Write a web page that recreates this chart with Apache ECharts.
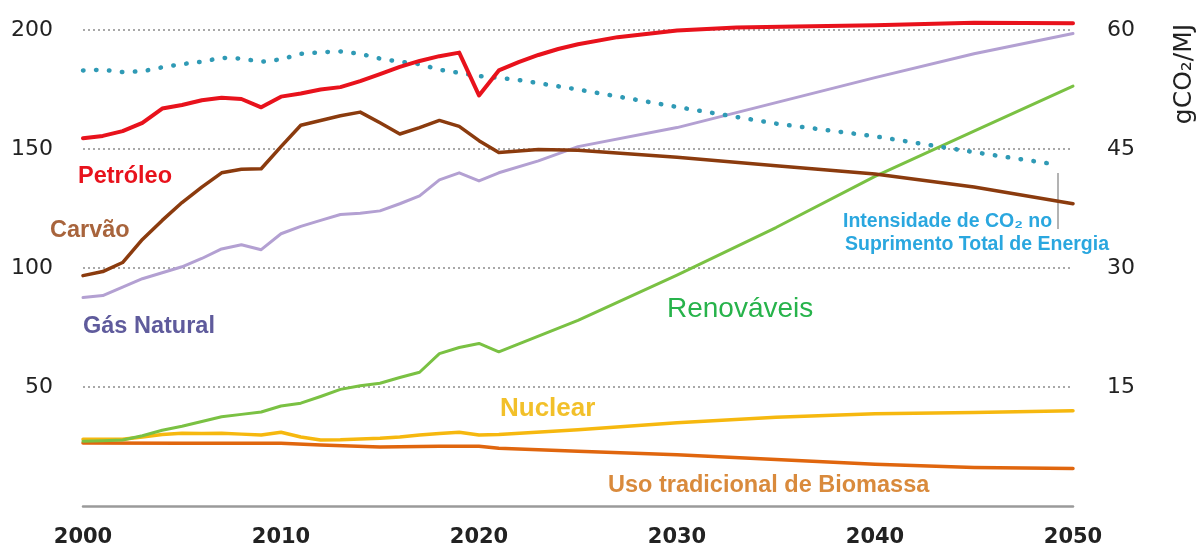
<!DOCTYPE html>
<html>
<head>
<meta charset="utf-8">
<script src="https://cdn.jsdelivr.net/npm/echarts@6/dist/echarts.min.js"></script>
<style>
  html, body { margin: 0; padding: 0; background: #fff; }
  #chart { width: 1199px; height: 551px; }
</style>
</head>
<body>
<div id="chart"></div>
<script>
// [ano, valor] – eixo esquerdo
const petroleo = [
  [2000, 154.5], [2001, 155.5], [2002, 157.5], [2003, 161], [2004, 167], [2005, 168.5],
  [2006, 170.5], [2007, 171.5], [2008, 171], [2009, 167.5], [2010, 172], [2011, 173.3],
  [2012, 175], [2013, 176], [2014, 178.5], [2015, 181.5], [2016, 184.5], [2017, 187],
  [2018, 189], [2019, 190.5], [2020, 172.5], [2021, 183], [2022, 186.5], [2023, 189.5],
  [2024, 192], [2025, 194], [2027, 197], [2030, 199.8], [2033, 201], [2036, 201.5],
  [2040, 202], [2045, 203], [2050, 202.8],
]
const carvao = [
  [2000, 96.8], [2001, 98.5], [2002, 102.3], [2003, 112], [2004, 120], [2005, 127.5],
  [2006, 134], [2007, 140], [2008, 141.5], [2009, 141.7], [2010, 151], [2011, 160],
  [2012, 162], [2013, 164], [2014, 165.5], [2015, 161], [2016, 156.3], [2017, 159],
  [2018, 162], [2019, 159.5], [2020, 153.5], [2021, 148.5], [2023, 149.8], [2025, 149.5],
  [2030, 146.5], [2035, 143], [2040, 139.5], [2045, 134], [2050, 127],
]
const gasNatural = [
  [2000, 87.6], [2001, 88.4], [2002, 92], [2003, 95.5], [2004, 98], [2005, 100.5],
  [2006, 104], [2007, 108], [2008, 109.8], [2009, 107.7], [2010, 114.4], [2011, 117.5],
  [2012, 120], [2013, 122.5], [2014, 123], [2015, 124], [2016, 127], [2017, 130.3],
  [2018, 137], [2019, 140], [2020, 136.6], [2021, 140], [2023, 145], [2025, 151],
  [2030, 159], [2035, 169.5], [2040, 180], [2045, 190], [2050, 198.5],
]
const renovaveis = [
  [2000, 27.2], [2001, 27.4], [2002, 27.7], [2003, 29.5], [2004, 31.8], [2005, 33.5],
  [2006, 35.5], [2007, 37.5], [2008, 38.5], [2009, 39.5], [2010, 42], [2011, 43.2],
  [2012, 46], [2013, 49], [2014, 50.5], [2015, 51.6], [2016, 54], [2017, 56.2],
  [2018, 64], [2019, 66.6], [2020, 68.3], [2021, 64.8], [2025, 78], [2030, 97],
  [2035, 117], [2040, 138.5], [2045, 157.5], [2050, 176.4],
]
const nuclear = [
  [2000, 28], [2001, 28], [2002, 28], [2003, 29], [2004, 30], [2005, 30.6],
  [2006, 30.5], [2007, 30.6], [2008, 30.2], [2009, 29.8], [2010, 31], [2011, 29],
  [2012, 27.7], [2013, 27.8], [2014, 28.2], [2015, 28.5], [2016, 29], [2017, 29.8],
  [2018, 30.5], [2019, 31], [2020, 29.8], [2021, 30], [2025, 32], [2030, 35],
  [2035, 37.3], [2040, 38.8], [2045, 39.3], [2050, 40],
]
const biomassa = [
  [2000, 26.5], [2005, 26.4], [2010, 26.4], [2012, 25.6], [2015, 24.8], [2018, 25.1],
  [2020, 25.1], [2021, 24.3], [2025, 23], [2030, 21.5], [2035, 19.5], [2040, 17.5],
  [2045, 16.2], [2050, 15.8],
]
// eixo direito (gCO2/MJ)
const intensidadeCO2 = [
  [2000, 54.9], [2001, 55], [2002, 54.7], [2003, 54.8], [2004, 55.3], [2005, 55.7],
  [2006, 56], [2007, 56.5], [2008, 56.4], [2009, 56], [2010, 56.3], [2011, 57],
  [2012, 57.2], [2013, 57.3], [2014, 57], [2015, 56.4], [2016, 56], [2017, 55.7],
  [2018, 55], [2019, 54.6], [2020, 54.2], [2022, 53.7], [2025, 52.5], [2030, 50.3],
  [2035, 48.2], [2040, 46.6], [2045, 44.6], [2049, 43.1],
]

const SANS = '"Liberation Sans", Arial, sans-serif'
const LABEL_FONT = `bold 23.5px ${SANS}`
const NOTE_FONT = `bold 19.5px ${SANS}`

function line(name, data, color, width, extra = {}) {
  return {
    name,
    type: 'line',
    data,
    symbol: 'none',
    clip: false,
    lineStyle: { color, width, join: 'round', cap: 'round' },
    ...extra,
  }
}

function text(str, x, y, fill, font = LABEL_FONT) {
  return { type: 'text', x, y, style: { text: str, fill, font, align: 'left', verticalAlign: 'middle' } }
}

const chart = echarts.init(document.getElementById('chart'))
chart.setOption({
  animation: false,
  grid: { left: 83, right: 126, top: 30, bottom: 45, outerBoundsMode: 'none' },
  xAxis: {
    type: 'value',
    min: 2000,
    max: 2050,
    interval: 10,
    axisLine: { lineStyle: { color: '#9a9a9a', width: 2.5 } },
    axisTick: { show: false },
    splitLine: { show: false },
    axisLabel: {
      margin: 21,
      color: '#222',
      fontSize: 21,
      fontWeight: 'bold',
      fontFamily: '"DejaVu Sans", sans-serif',
      formatter: (v) => String(v),
    },
  },
  yAxis: [
    {
      type: 'value',
      min: 0,
      max: 200,
      interval: 50,
      axisLine: { show: false },
      axisTick: { show: false },
      splitLine: { showMinLine: false, lineStyle: { color: '#a8a8a8', width: 2, type: [2, 3] } },
      axisLabel: {
        margin: 30,
        color: '#222',
        fontSize: 22,
        fontFamily: '"DejaVu Sans", sans-serif',
        formatter: (v) => (v === 0 ? '' : v),
      },
    },
    {
      type: 'value',
      min: 0,
      max: 60,
      interval: 15,
      position: 'right',
      axisLine: { show: false },
      axisTick: { show: false },
      splitLine: { show: false },
      axisLabel: {
        margin: 34,
        color: '#222',
        fontSize: 22,
        fontFamily: '"DejaVu Sans", sans-serif',
        formatter: (v) => (v === 0 ? '' : v),
      },
    },
  ],
  series: [
    line('Uso tradicional de Biomassa', biomassa, '#e0660e', 3.5),
    line('Nuclear', nuclear, '#f6b80f', 3.5),
    line('Renováveis', renovaveis, '#7ac143', 3),
    line('Gás Natural', gasNatural, '#b3a0d2', 3),
    line('Carvão', carvao, '#8b3b0e', 3.5),
    line('Intensidade de CO₂', intensidadeCO2, '#2f9ab5', 4.5, {
      yAxisIndex: 1,
      lineStyle: { color: '#2f9ab5', width: 4.5, type: [0.5, 12.5], cap: 'round' },
    }),
    line('Petróleo', petroleo, '#e8121c', 4),
  ],
  graphic: [
    text('Petróleo', 78, 177, '#e8121c'),
    text('Carvão', 50, 231, '#a8643c'),
    text('Gás Natural', 83, 327, '#5f5b9c'),
    text('Renováveis', 667, 309, '#27b34b', `28px ${SANS}`),
    text('Nuclear', 500, 409, '#f2c02a', `bold 26px ${SANS}`),
    text('Uso tradicional de Biomassa', 608, 486, '#d98a3c'),
    text('Intensidade de CO₂ no', 843, 222, '#2aa7df', NOTE_FONT),
    text('Suprimento Total de Energia', 845, 245, '#2aa7df', NOTE_FONT),
    {
      type: 'line',
      shape: { x1: 1058, y1: 173, x2: 1058, y2: 229 },
      style: { stroke: '#9a9a9a', lineWidth: 1.5 },
    },
    {
      type: 'text',
      x: 1184,
      y: 74,
      rotation: Math.PI / 2,
      style: {
        text: 'gCO₂/MJ',
        fill: '#222',
        font: '25px "DejaVu Sans", sans-serif',
        align: 'center',
        verticalAlign: 'middle',
      },
    },
  ],
})
</script>
</body>
</html>
